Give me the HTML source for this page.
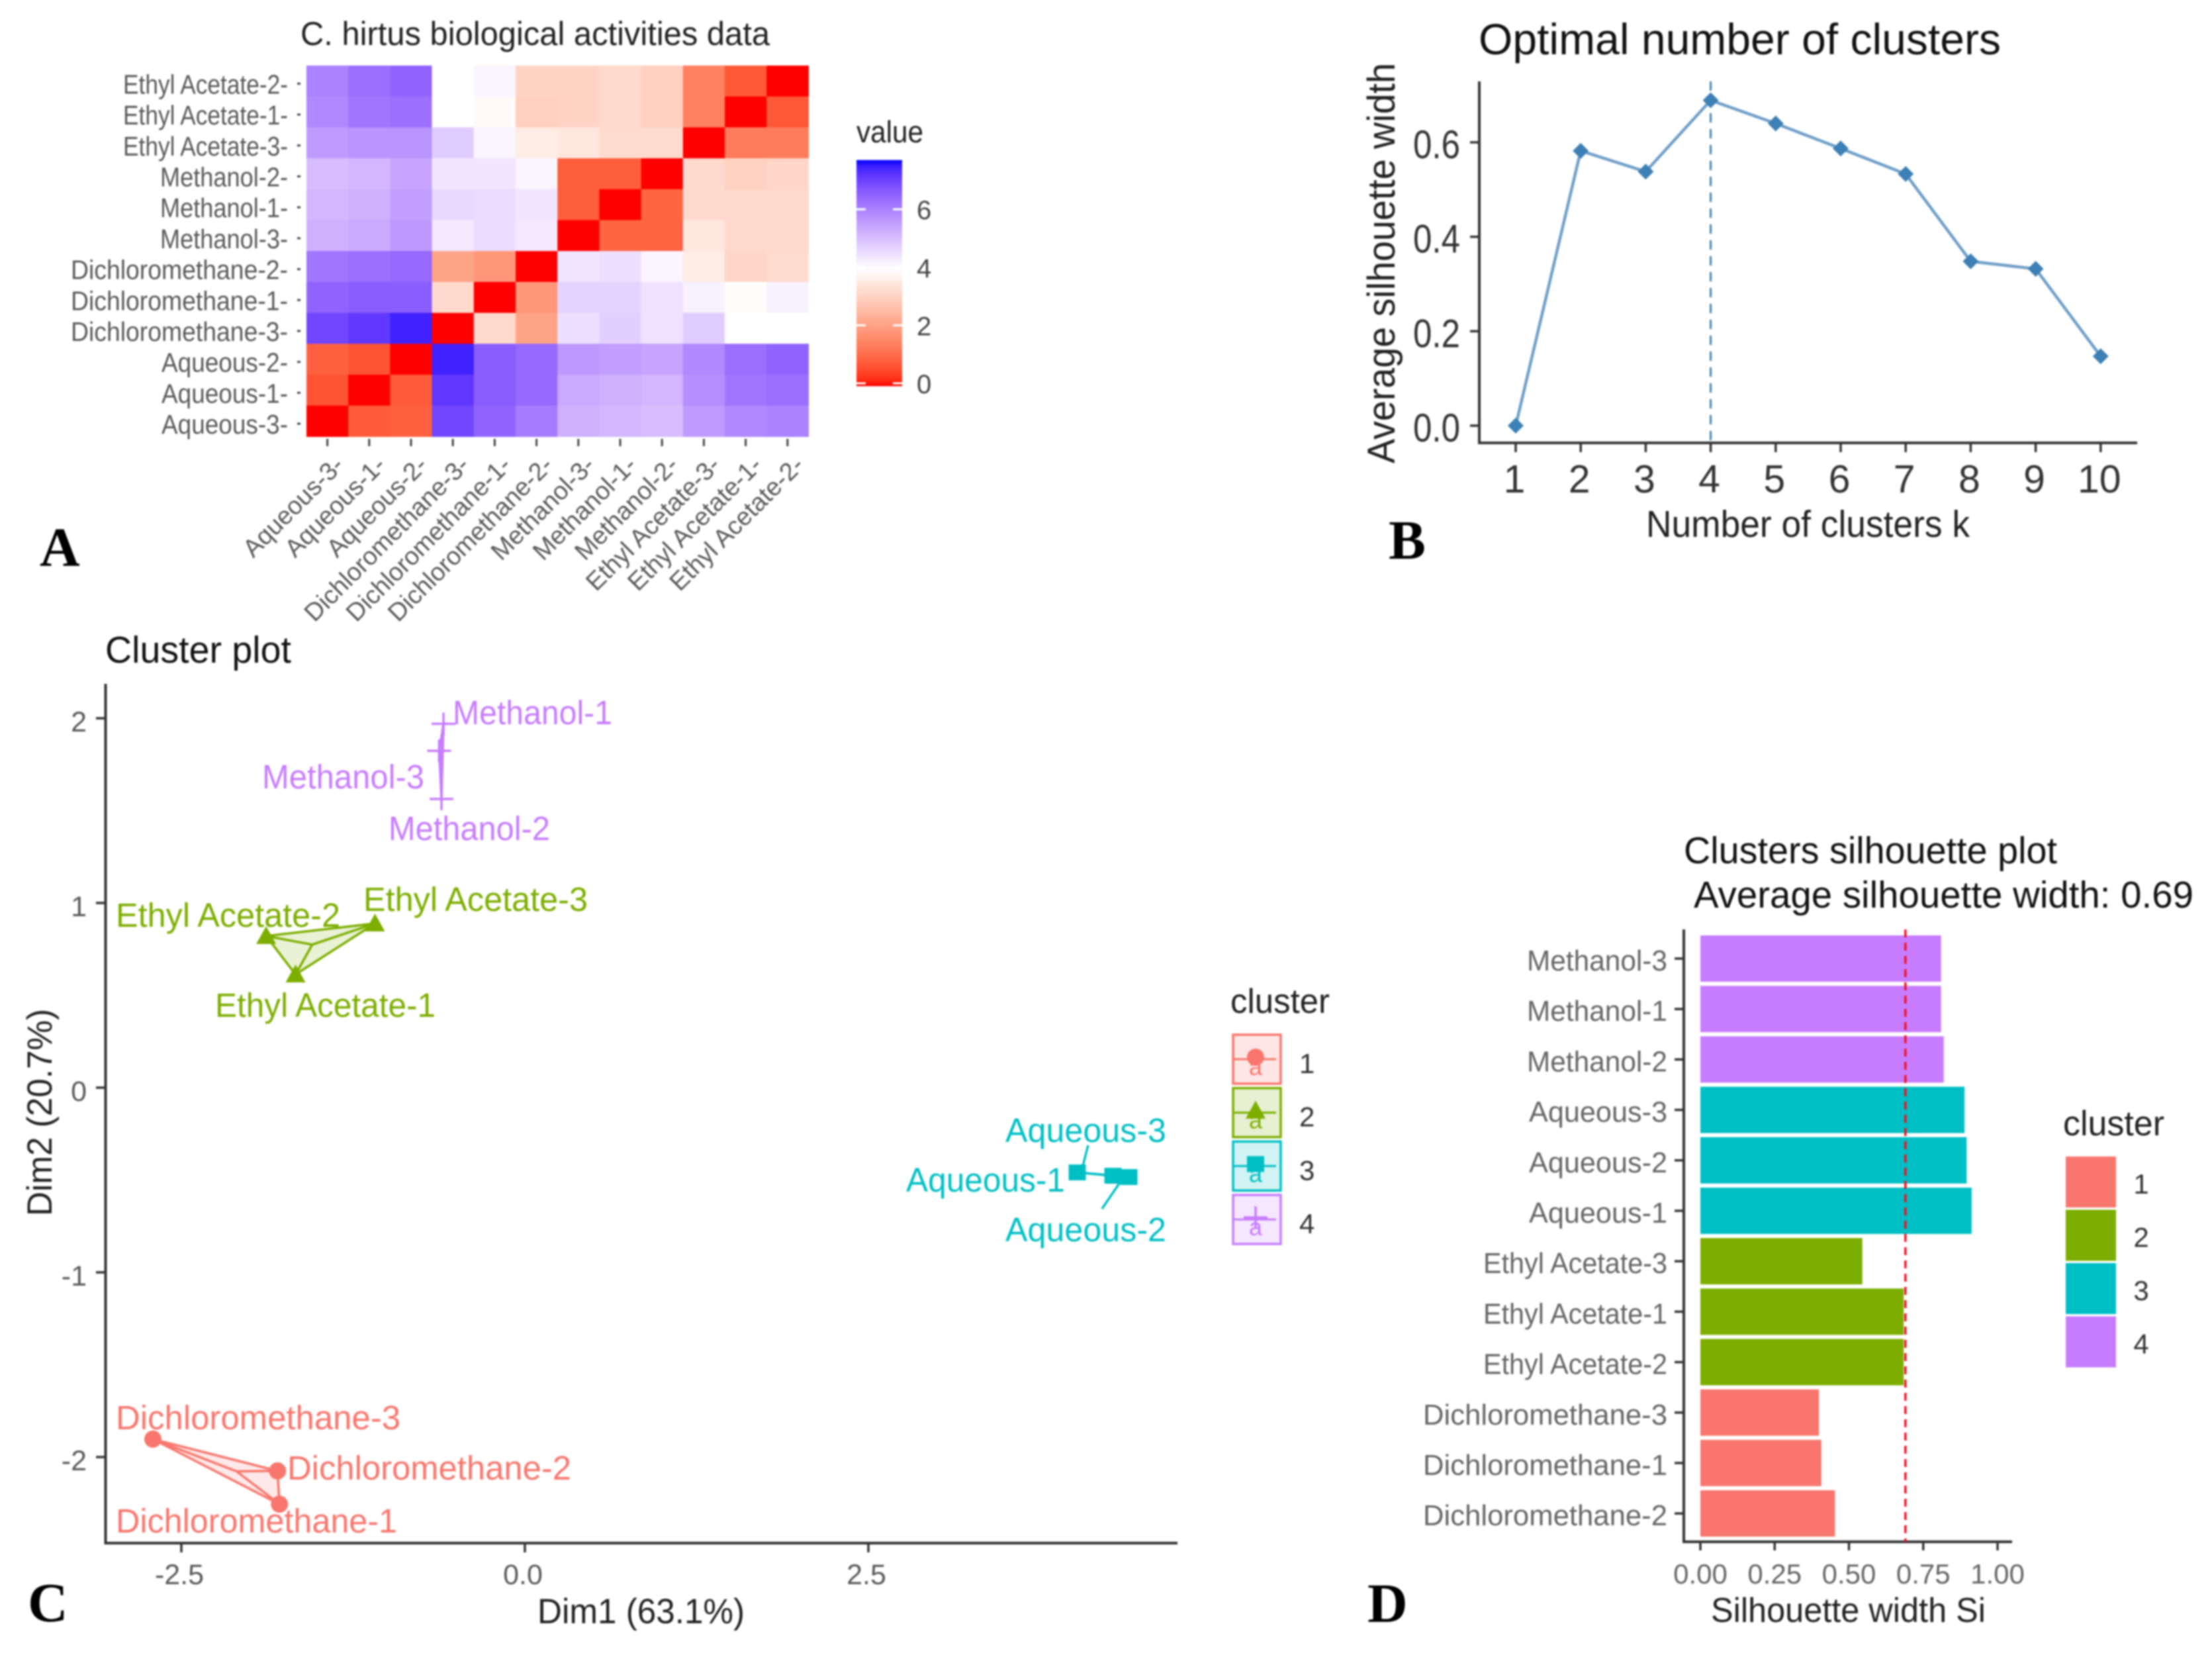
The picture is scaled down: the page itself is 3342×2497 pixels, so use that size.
<!DOCTYPE html>
<html lang="en">
<head>
<meta charset="utf-8">
<title>C. hirtus clustering figure</title>
<style>
  html, body { margin: 0; padding: 0; background: #fff; }
  #figure { display: block; filter: blur(1.3px); font-family: "Liberation Sans", sans-serif; }
  .letter { font-family: "Liberation Serif", serif; font-weight: bold; font-size: 84px; fill: #000; }
</style>
</head>
<body>
<svg id="figure" xmlns="http://www.w3.org/2000/svg" width="3342" height="2497" viewBox="0 0 3342 2497">
  <rect x="0" y="0" width="3342" height="2497" fill="#fff"/>
  <defs id="defs"></defs>

  <g id="panel-a">
    <text x="454" y="68" font-size="50" fill="#222" textLength="709" lengthAdjust="spacingAndGlyphs">C. hirtus biological activities data</text>
    <text x="1294" y="215" font-size="46" fill="#222" textLength="101" lengthAdjust="spacingAndGlyphs">value</text>
    <text class="letter" x="60" y="855">A</text>
  </g>

  <g id="panel-b">
    <text x="2234" y="82" font-size="66" fill="#111" textLength="789" lengthAdjust="spacingAndGlyphs">Optimal number of clusters</text>
    <text x="2487" y="811" font-size="57" fill="#222" textLength="489" lengthAdjust="spacingAndGlyphs">Number of clusters k</text>
    <text transform="translate(2107 700) rotate(-90)" font-size="58" fill="#222" textLength="605" lengthAdjust="spacingAndGlyphs">Average silhouette width</text>
    <text class="letter" x="2098" y="844">B</text>
  </g>

  <g id="panel-c">
    <text x="159" y="1001" font-size="57" fill="#111" textLength="281" lengthAdjust="spacingAndGlyphs">Cluster plot</text>
    <text x="812" y="2452" font-size="53" fill="#222" textLength="313" lengthAdjust="spacingAndGlyphs">Dim1 (63.1%)</text>
    <text transform="translate(78 1837) rotate(-90)" font-size="53" fill="#222" textLength="313" lengthAdjust="spacingAndGlyphs">Dim2 (20.7%)</text>
    <g font-size="51">
      <text x="684" y="1094" fill="#C77CFF" textLength="241" lengthAdjust="spacingAndGlyphs">Methanol-1</text>
      <text x="396" y="1191" fill="#C77CFF" textLength="245" lengthAdjust="spacingAndGlyphs">Methanol-3</text>
      <text x="587" y="1269" fill="#C77CFF" textLength="244" lengthAdjust="spacingAndGlyphs">Methanol-2</text>
      <text x="549" y="1376" fill="#7CAE00" textLength="339" lengthAdjust="spacingAndGlyphs">Ethyl Acetate-3</text>
      <text x="175" y="1400" fill="#7CAE00" textLength="339" lengthAdjust="spacingAndGlyphs">Ethyl Acetate-2</text>
      <text x="325" y="1536" fill="#7CAE00" textLength="333" lengthAdjust="spacingAndGlyphs">Ethyl Acetate-1</text>
      <text x="175" y="2159" fill="#F8766D" textLength="430" lengthAdjust="spacingAndGlyphs">Dichloromethane-3</text>
      <text x="434" y="2235" fill="#F8766D" textLength="429" lengthAdjust="spacingAndGlyphs">Dichloromethane-2</text>
      <text x="175" y="2315" fill="#F8766D" textLength="425" lengthAdjust="spacingAndGlyphs">Dichloromethane-1</text>
      <text x="1519" y="1725" fill="#00BFC4" textLength="243" lengthAdjust="spacingAndGlyphs">Aqueous-3</text>
      <text x="1369" y="1800" fill="#00BFC4" textLength="240" lengthAdjust="spacingAndGlyphs">Aqueous-1</text>
      <text x="1519" y="1875" fill="#00BFC4" textLength="243" lengthAdjust="spacingAndGlyphs">Aqueous-2</text>
    </g>
    <text x="1859" y="1530" font-size="52" fill="#222" textLength="150" lengthAdjust="spacingAndGlyphs">cluster</text>
    <text class="letter" x="42" y="2449">C</text>
  </g>

  <g id="panel-d">
    <text x="2544" y="1304" font-size="57" fill="#111" textLength="564" lengthAdjust="spacingAndGlyphs">Clusters silhouette plot</text>
    <text x="2559" y="1371" font-size="57" fill="#111" textLength="755" lengthAdjust="spacingAndGlyphs">Average silhouette width: 0.69</text>
    <text x="2585" y="2450" font-size="52" fill="#222" textLength="415" lengthAdjust="spacingAndGlyphs">Silhouette width Si</text>
    <text x="3117" y="1715" font-size="53" fill="#222" textLength="153" lengthAdjust="spacingAndGlyphs">cluster</text>
    <text class="letter" x="2066" y="2450">D</text>
  </g>
</svg>

<script>
/* ---------- Panel A data ---------- */
const heatRowNames = ['Ethyl Acetate-2','Ethyl Acetate-1','Ethyl Acetate-3','Methanol-2','Methanol-1','Methanol-3','Dichloromethane-2','Dichloromethane-1','Dichloromethane-3','Aqueous-2','Aqueous-1','Aqueous-3'];
const heatColNames = ['Aqueous-3','Aqueous-1','Aqueous-2','Dichloromethane-3','Dichloromethane-1','Dichloromethane-2','Methanol-3','Methanol-1','Methanol-2','Ethyl Acetate-3','Ethyl Acetate-1','Ethyl Acetate-2'];
const heatValues = [
  [6.0,6.3,6.5,4.0,4.15,3.1,3.1,3.2,3.0,1.45,0.75,0.0],
  [5.9,6.2,6.3,4.0,3.9,3.0,3.1,3.2,3.0,1.45,0.0,0.75],
  [5.6,5.7,5.7,4.8,4.15,3.6,3.5,3.25,3.25,0.0,1.35,1.35],
  [5.05,5.15,5.45,4.4,4.4,4.15,0.85,0.85,0.0,3.2,3.05,3.15],
  [5.15,5.25,5.55,4.6,4.55,4.4,0.85,0.0,0.95,3.2,3.2,3.2],
  [5.25,5.35,5.65,4.35,4.55,4.35,0.0,0.95,0.95,3.5,3.2,3.2],
  [6.2,6.3,6.4,2.1,1.85,0.0,4.4,4.5,4.15,3.6,3.15,3.25],
  [6.5,6.6,6.6,3.2,0.0,1.85,4.7,4.7,4.45,4.2,3.95,4.2],
  [6.95,7.15,7.45,0.0,3.2,2.1,4.5,4.75,4.45,4.8,4.0,4.0],
  [0.9,0.7,0.0,7.45,6.6,6.4,5.65,5.55,5.45,5.9,6.3,6.5],
  [0.7,0.0,0.8,7.15,6.6,6.4,5.35,5.25,5.15,5.8,6.2,6.3],
  [0.0,0.8,0.9,6.95,6.5,6.1,5.25,5.15,5.05,5.6,5.9,6.0]
];
const heatLegendTicks = [0,2,4,6];
const heatDomainMax = 7.7;
const heatDomainMid = 4.0;

/* ---------- Panel B data ---------- */
const clusterCounts = [1,2,3,4,5,6,7,8,9,10];
const silhouetteAverages = [0,0.582,0.538,0.689,0.640,0.587,0.533,0.348,0.332,0.147];
const silhouetteTicks = ['0.0','0.2','0.4','0.6'];
const optimalK = 4;

/* ---------- Panel C data ---------- */
const pointNames = ['Dichloromethane-1','Dichloromethane-2','Dichloromethane-3','Ethyl Acetate-1','Ethyl Acetate-2','Ethyl Acetate-3','Aqueous-1','Aqueous-2','Aqueous-3','Methanol-1','Methanol-2','Methanol-3'];
const pointClusters = [1,1,1,2,2,2,3,3,3,4,4,4];
const dim1Values = [-1.786,-1.80,-2.707,-1.669,-1.883,-1.091,4.28,4.396,4.02,-0.592,-0.607,-0.624];
const dim2Values = [-2.255,-2.075,-1.903,0.613,0.821,0.889,-0.477,-0.484,-0.459,1.97,1.563,1.824];
const dim1Ticks = ['-2.5','0.0','2.5'];
const dim2Ticks = ['-2','-1','0','1','2'];
const clusterIds = [1,2,3,4];

/* ---------- Panel D data ---------- */
const barNames = ['Methanol-3','Methanol-1','Methanol-2','Aqueous-3','Aqueous-2','Aqueous-1','Ethyl Acetate-3','Ethyl Acetate-1','Ethyl Acetate-2','Dichloromethane-3','Dichloromethane-1','Dichloromethane-2'];
const barClusters = [4,4,4,3,3,3,2,2,2,1,1,1];
const barWidths = [0.81,0.81,0.819,0.889,0.896,0.913,0.545,0.684,0.684,0.399,0.407,0.453];
const barTicks = ['0.00','0.25','0.50','0.75','1.00'];
const averageWidth = 0.69;

/* ---------- Shared helpers ---------- */
const NS = 'http://www.w3.org/2000/svg';
const clusterColor = {1:'#F8766D',2:'#7CAE00',3:'#00BFC4',4:'#C77CFF'};
const tickInk = '#444';
const labelInk = '#5a5a5a';

function el(tag, attrs, parent) {
  const n = document.createElementNS(NS, tag);
  for (const k in attrs) n.setAttribute(k, attrs[k]);
  parent.appendChild(n);
  return n;
}
function textEl(parent, x, y, str, size, fill, anchor) {
  const t = el('text', {x: x, y: y, 'font-size': size, fill: fill, 'text-anchor': anchor || 'start'}, parent);
  t.textContent = str;
  return t;
}
function fitText(t, width) {
  t.setAttribute('textLength', width);
  t.setAttribute('lengthAdjust', 'spacingAndGlyphs');
}

/* Lab interpolation, matching how ggplot2 builds its gradients */
function toLab(c) {
  const f = c.map(v => { v /= 255; return v > 0.04045 ? Math.pow((v + 0.055) / 1.055, 2.4) : v / 12.92; });
  const X = (0.4124*f[0] + 0.3576*f[1] + 0.1805*f[2]) / 0.95047;
  const Y = (0.2126*f[0] + 0.7152*f[1] + 0.0722*f[2]);
  const Z = (0.0193*f[0] + 0.1192*f[1] + 0.9505*f[2]) / 1.08883;
  const g = v => v > 0.008856 ? Math.cbrt(v) : 7.787*v + 16/116;
  return [116*g(Y)-16, 500*(g(X)-g(Y)), 200*(g(Y)-g(Z))];
}
function fromLab(l) {
  const fy = (l[0]+16)/116, fx = l[1]/500 + fy, fz = fy - l[2]/200;
  const h = v => v*v*v > 0.008856 ? v*v*v : (v-16/116)/7.787;
  const X = h(fx)*0.95047, Y = h(fy), Z = h(fz)*1.08883;
  const r = [3.2406*X-1.5372*Y-0.4986*Z, -0.9689*X+1.8758*Y+0.0415*Z, 0.0557*X-0.2040*Y+1.0570*Z];
  return 'rgb(' + r.map(v => {
    v = Math.max(0, Math.min(1, v));
    v = v > 0.0031308 ? 1.055*Math.pow(v, 1/2.4)-0.055 : 12.92*v;
    return Math.round(v*255);
  }).join(',') + ')';
}
const labRed = toLab([255,0,0]), labWhite = toLab([255,255,255]), labBlue = toLab([0,0,255]);
function heatColor(v) {
  const a = v < heatDomainMid ? labRed : labBlue;
  const t = v < heatDomainMid ? v / heatDomainMid : (heatDomainMax - v) / (heatDomainMax - heatDomainMid);
  const s = Math.max(0, Math.min(1, t));
  return fromLab([0,1,2].map(i => a[i] + (labWhite[i]-a[i])*s));
}

/* ---------- Panel A: heatmap ---------- */
(function () {
  const g = document.getElementById('panel-a');
  const left = 463, top = 99, cw = 63.2, rh = 46.7;
  const colX = i => left + cw*i;
  const rowY = i => top + rh*i;
  const rowWidth = name => name.indexOf('Dichloro') === 0 ? 328 : name.indexOf('Ethyl') === 0 ? 249 : name.indexOf('Methanol') === 0 ? 193 : 191;

  heatValues.forEach((row, r) => row.forEach((v, c) => {
    const cell = el('rect', {x: colX(c), y: rowY(r), width: cw+0.6, height: rh+0.6, fill: heatColor(v)}, g);
    
    
  }));

  heatRowNames.forEach((name, r) => {
    const y = rowY(r) + rh/2;
    const t = textEl(g, 435, y+19, name + '-', 41, labelInk, 'end');
    fitText(t, rowWidth(name));
    
    
    const k = el('line', {x1: 449, x2: 454, y1: y+4, y2: y+4, stroke: tickInk, 'stroke-width': 3}, g);
    
    
  });

  heatColNames.forEach((name, c) => {
    const x = colX(c) + cw/2;
    const k = el('line', {x1: x, x2: x, y1: 663, y2: 674, stroke: tickInk, 'stroke-width': 3}, g);
    
    
    const t = textEl(g, 0, 0, name + '-', 38, labelInk, 'end');
    t.setAttribute('transform', 'translate(' + (x+27) + ' 705) rotate(-45)');
    
    
  });

  /* colour legend */
  const legendY = v => 579 - 43.8*v;
  const defs = document.getElementById('defs');
  const grad = el('linearGradient', {id: 'heat-gradient', x1: 0, y1: 0, x2: 0, y2: 1}, defs);
  for (let i = 0; i <= 40; i++) {
    const v = heatDomainMax * (1 - i/40);
    el('stop', {offset: (i/40), 'stop-color': heatColor(v)}, grad);
  }
  const barTop = legendY(heatDomainMax), barBottom = legendY(-0.1);
  const bar = el('rect', {x: 1294, y: barTop, width: 69, height: barBottom-barTop, fill: 'url(#heat-gradient)'}, g);
  
  
  heatLegendTicks.forEach(v => {
    [[1294,1308],[1349,1363]].forEach(p => {
      const s = el('line', {x1: p[0], x2: p[1], y1: legendY(v), y2: legendY(v), stroke: '#fff', 'stroke-width': 3}, g);
      
      
    });
    const t = textEl(g, 1385, legendY(v)+15, String(v), 40, '#444');
    
    
  });
})();

/* ---------- Panel B: line chart ---------- */
(function () {
  const g = document.getElementById('panel-b');
  const sx = k => 2290 + 98.2*(k-1);
  const sy = v => 643 - 713.3*v;
  const yAxis = el('line', {x1: 2235, x2: 2235, y1: 123, y2: 671, stroke: '#333', 'stroke-width': 4}, g);
  
  
  const xAxis = el('line', {x1: 2233, x2: 3229, y1: 669, y2: 669, stroke: '#333', 'stroke-width': 4}, g);
  
  

  silhouetteTicks.forEach(s => {
    const v = parseFloat(s);
    const k = el('line', {x1: 2221, x2: 2235, y1: sy(v), y2: sy(v), stroke: '#333', 'stroke-width': 3.5}, g);
    
    
    const t = textEl(g, 2206, sy(v)+24, s, 60, '#333', 'end');
    fitText(t, 71);
    
    
  });
  clusterCounts.forEach(c => {
    const k = el('line', {x1: sx(c), x2: sx(c), y1: 669, y2: 683, stroke: '#333', 'stroke-width': 3.5}, g);
    
    
    const t = textEl(g, sx(c)-2, 744, String(c), 59, '#333', 'middle');
    
    
  });

  const ref = el('line', {x1: sx(optimalK), x2: sx(optimalK), y1: 123, y2: 669, stroke: '#4682B4', 'stroke-width': 3, 'stroke-dasharray': '14 10'}, g);
  
  

  const pts = clusterCounts.map((c, i) => sx(c) + ',' + sy(silhouetteAverages[i])).join(' ');
  const line = el('polyline', {points: pts, fill: 'none', stroke: '#6f9fc8', 'stroke-width': 4.5}, g);
  
  

  clusterCounts.forEach((c, i) => {
    const x = sx(c), y = sy(silhouetteAverages[i]), r = 12;
    const d = el('polygon', {points: [x,y-r, x+r,y, x,y+r, x-r,y].join(' '), fill: '#3d80b5'}, g);
    
    
  });
})();

/* ---------- Panel C: cluster scatter ---------- */
function clusterMarker(parent, cluster, x, y) {
  const c = clusterColor[cluster];
  if (cluster === 1) return el('circle', {cx: x, cy: y, r: 13, fill: c}, parent);
  if (cluster === 2) return el('polygon', {points: [x,y-15, x+15,y+12, x-15,y+12].join(' '), fill: c}, parent);
  if (cluster === 3) return el('rect', {x: x-13, y: y-12, width: 26, height: 24, fill: c}, parent);
  return el('path', {d: 'M' + (x-18) + ' ' + y + 'H' + (x+18) + 'M' + x + ' ' + (y-17) + 'V' + (y+17), stroke: c, 'stroke-width': 3.5, fill: 'none'}, parent);
}
(function () {
  const g = document.getElementById('panel-c');
  const sx = v => 793 + 207.6*v;
  const sy = v => 1643 - 279*v;

  const yAxis = el('line', {x1: 159.5, x2: 159.5, y1: 1033, y2: 2333, stroke: '#333', 'stroke-width': 4}, g);
  
  
  const xAxis = el('line', {x1: 158, x2: 1779, y1: 2331, y2: 2331, stroke: '#333', 'stroke-width': 4}, g);
  
  

  dim2Ticks.forEach(s => {
    const v = parseFloat(s);
    const k = el('line', {x1: 145, x2: 159, y1: sy(v), y2: sy(v), stroke: '#333', 'stroke-width': 3.5}, g);
    
    
    const t = textEl(g, 131, sy(v)+20, s, 43, labelInk, 'end');
    
    
  });
  dim1Ticks.forEach(s => {
    const v = parseFloat(s);
    const k = el('line', {x1: sx(v), x2: sx(v), y1: 2331, y2: 2345, stroke: '#333', 'stroke-width': 3.5}, g);
    
    
    const t = textEl(g, sx(v)-3, 2393, s, 43, labelInk, 'middle');
    
    
  });

  clusterIds.forEach(id => {
    const idx = pointClusters.map((c, i) => c === id ? i : -1).filter(i => i >= 0);
    const xs = idx.map(i => sx(dim1Values[i]));
    const ys = idx.map(i => sy(dim2Values[i]));
    const cx = xs.reduce((a, b) => a + b, 0) / xs.length;
    const cy = ys.reduce((a, b) => a + b, 0) / ys.length;
    const c = clusterColor[id];
    const hull = el('polygon', {points: xs.map((x, i) => x + ',' + ys[i]).join(' '), fill: c, 'fill-opacity': 0.16, stroke: c, 'stroke-width': 3.5, 'stroke-linejoin': 'round'}, g);
    
    
    xs.forEach((x, i) => {
      const s = el('line', {x1: cx, y1: cy, x2: x, y2: ys[i], stroke: c, 'stroke-width': 3.5}, g);
      
      
    });
    xs.forEach((x, i) => {
      const m = clusterMarker(g, id, x, ys[i]);
      
      
    });
  });

  /* repel leader lines for the two crowded aqueous labels */
  const i3 = pointNames.indexOf('Aqueous-3');
  const i2 = pointNames.indexOf('Aqueous-2');
  const lead3 = el('line', {x1: sx(dim1Values[i3])+6, y1: sy(dim2Values[i3]), x2: 1644, y2: 1730, stroke: clusterColor[3], 'stroke-width': 3.5}, g);
  
  
  const lead2 = el('line', {x1: sx(dim1Values[i2])-8, y1: sy(dim2Values[i2]), x2: 1665, y2: 1826, stroke: clusterColor[3], 'stroke-width': 3.5}, g);
  
  

  /* legend keys */
  clusterIds.forEach((id, i) => {
    const y0 = 1562 + 80.7*i, c = clusterColor[id];
    const key = el('rect', {x: 1863, y: y0+1, width: 72, height: 74, fill: c, 'fill-opacity': 0.18, stroke: c, 'stroke-width': 3.5}, g);
    
    
    const mid = el('line', {x1: 1864, x2: 1928, y1: y0+38, y2: y0+38, stroke: c, 'stroke-width': 3}, g);
    
    
    const m = clusterMarker(g, id, 1897, y0+35);
    
    
    const a = textEl(g, 1897, y0+62, 'a', 36, c, 'middle');
    
    
    const t = textEl(g, 1963, y0+59, String(id), 42, '#333');
    
    
  });
})();

/* ---------- Panel D: silhouette bars ---------- */
(function () {
  const g = document.getElementById('panel-d');
  const sx = v => 2569 + 449*v;
  const sy = i => 1448 + 76.2*i;
  const barH = 70;
  const nameWidth = name => name.indexOf('Dichloro') === 0 ? 369 : name.indexOf('Ethyl') === 0 ? 278 : name.indexOf('Methanol') === 0 ? 212 : 209;

  barNames.forEach((name, i) => {
    const b = el('rect', {x: sx(0), y: sy(i)-barH/2, width: sx(barWidths[i])-sx(0), height: barH, fill: clusterColor[barClusters[i]]}, g);
    
    
    const k = el('line', {x1: 2530, x2: 2544, y1: sy(i), y2: sy(i), stroke: '#333', 'stroke-width': 3.5}, g);
    
    
    const t = textEl(g, 2519, sy(i)+18, name, 44, '#666', 'end');
    fitText(t, nameWidth(name));
    
    
  });

  const yAxis = el('line', {x1: 2544, x2: 2544, y1: 1404, y2: 2331, stroke: '#333', 'stroke-width': 4}, g);
  
  
  const xAxis = el('line', {x1: 2542, x2: 3040, y1: 2329, y2: 2329, stroke: '#333', 'stroke-width': 4}, g);
  
  

  barTicks.forEach(s => {
    const v = parseFloat(s);
    const k = el('line', {x1: sx(v), x2: sx(v), y1: 2329, y2: 2342, stroke: '#333', 'stroke-width': 3.5}, g);
    
    
    const t = textEl(g, sx(v), 2392, s, 42, '#666', 'middle');
    
    
  });

  const avg = el('line', {x1: sx(averageWidth), x2: sx(averageWidth), y1: 1404, y2: 2329, stroke: '#ee1122', 'stroke-width': 3.5, 'stroke-dasharray': '12 8'}, g);
  
  

  clusterIds.forEach((id, i) => {
    const y0 = 1747 + 80.5*i;
    const key = el('rect', {x: 3121, y: y0, width: 76, height: 77, fill: clusterColor[id]}, g);
    
    
    const t = textEl(g, 3235, y0+56, String(id), 42, '#333', 'middle');
    
    
  });
})();
</script>
</body>
</html>
